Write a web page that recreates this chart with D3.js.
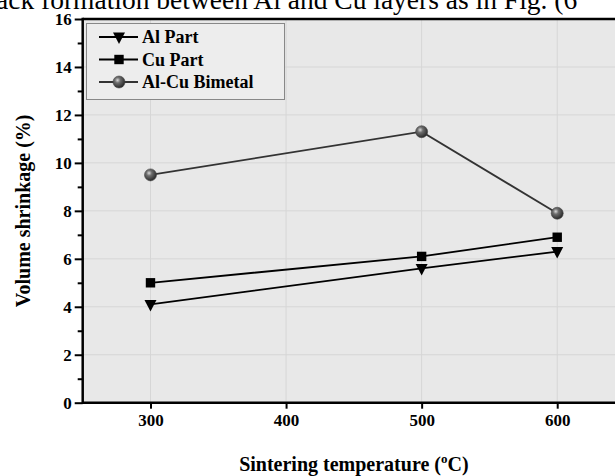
<!DOCTYPE html>
<html><head><meta charset="utf-8">
<script src="https://cdn.jsdelivr.net/npm/d3@7"></script>
<style>html,body{margin:0;padding:0;background:#fff;overflow:hidden}</style>
</head><body>
<script>
const temps = [300, 500, 600];
const alPart = [4.1, 5.6, 6.3];
const cuPart = [5.0, 6.1, 6.9];
const bimetal = [9.5, 11.3, 7.9];
const seriesNames = ["Al Part", "Cu Part", "Al-Cu Bimetal"];
const xTicks = [300, 400, 500, 600];
const yTicks = [0, 2, 4, 6, 8, 10, 12, 14, 16];
const headerText = "ack formation between Al and Cu layers as in Fig. (6";

const W = 615, H = 476;
const m = {left: 82.7, top: 19, right: 625, bottom: 402.7};
const svg = d3.select("body").append("svg").attr("width", W).attr("height", H);
const x = d3.scaleLinear().domain([250, 650]).range([m.left, m.right]);
const y = d3.scaleLinear().domain([0, 16]).range([m.bottom, m.top]);
const serif = "'Liberation Serif','Times New Roman',serif";

// header text from page
svg.append("text").attr("x", -4).attr("y", 9).attr("font-family", serif)
  .attr("font-size", 27.5).attr("fill", "#000").text(headerText);

const defs = svg.append("defs");
const rg = defs.append("radialGradient").attr("id", "sph").attr("cx", "38%").attr("cy", "35%").attr("r", "65%");
rg.append("stop").attr("offset", "0%").attr("stop-color", "#d8d8d8");
rg.append("stop").attr("offset", "35%").attr("stop-color", "#6e6e6e");
rg.append("stop").attr("offset", "100%").attr("stop-color", "#2a2a2a");

// plot background
svg.append("rect").attr("x", m.left).attr("y", m.top).attr("width", m.right - m.left)
  .attr("height", m.bottom - m.top).attr("fill", "#e8e8e8");

// grid
const g = svg.append("g");
g.selectAll(".gx").data(xTicks).enter().append("line")
  .attr("x1", d => x(d)).attr("x2", d => x(d)).attr("y1", m.top).attr("y2", m.bottom)
  .attr("stroke", "#d6d6d6").attr("stroke-width", 1);
g.selectAll(".gy").data(yTicks.filter(v => v > 0 && v < 16)).enter().append("line")
  .attr("x1", m.left).attr("x2", m.right).attr("y1", d => y(d)).attr("y2", d => y(d))
  .attr("stroke", "#d6d6d6").attr("stroke-width", 1);

// axes
const xAxis = d3.axisBottom(x).tickValues(xTicks).tickSize(6).tickPadding(5).tickFormat(d3.format("d"));
const gx = svg.append("g").attr("transform", `translate(0,${m.bottom})`).call(xAxis);
const yAxis = d3.axisLeft(y).tickValues(yTicks).tickSize(8).tickPadding(3);
const gy = svg.append("g").attr("transform", `translate(${m.left},0)`).call(yAxis);
const yMinor = d3.axisLeft(y).tickValues(d3.range(1, 16, 2)).tickSize(5).tickFormat("");
const gym = svg.append("g").attr("transform", `translate(${m.left},0)`).call(yMinor);
[gx, gy, gym].forEach(a => {
  a.select(".domain").remove();
  a.selectAll("line").attr("stroke", "#000").attr("stroke-width", 2);
  a.selectAll("text").attr("font-family", serif).attr("font-weight", "bold")
    .attr("font-size", 17).attr("fill", "#000");
});
// frame
svg.append("line").attr("x1", m.left).attr("x2", m.right).attr("y1", m.bottom).attr("y2", m.bottom)
  .attr("stroke", "#000").attr("stroke-width", 2.5);
svg.append("line").attr("x1", m.left).attr("x2", m.right).attr("y1", m.top).attr("y2", m.top)
  .attr("stroke", "#000").attr("stroke-width", 2.5);
svg.append("line").attr("x1", m.left).attr("x2", m.left).attr("y1", m.top - 1.2).attr("y2", m.bottom + 1.2)
  .attr("stroke", "#000").attr("stroke-width", 2.5);

// axis titles
const xt = svg.append("text").attr("x", x(450)).attr("y", 471).attr("text-anchor", "middle")
  .attr("font-family", serif).attr("font-weight", "bold").attr("font-size", 20);
xt.append("tspan").text("Sintering temperature (");
xt.append("tspan").attr("font-size", 13).attr("dy", -8).text("o");
xt.append("tspan").attr("dy", 8).text("C)");
svg.append("text").attr("transform", `translate(30,${(m.top + m.bottom) / 2}) rotate(-90)`)
  .attr("text-anchor", "middle").attr("font-family", serif).attr("font-weight", "bold")
  .attr("font-size", 20).text("Volume shrinkage (%)");

// series
const series = [
  {name: seriesNames[0], vals: alPart, stroke: "#000", sym: "tri"},
  {name: seriesNames[1], vals: cuPart, stroke: "#000", sym: "sq"},
  {name: seriesNames[2], vals: bimetal, stroke: "#333", sym: "sph"}
];
const line = d3.line().x(d => x(d[0])).y(d => y(d[1]));
function drawMarker(sel, sym) {
  if (sym === "tri") {
    sel.append("path").attr("d", "M-6,-4.5L6,-4.5L0,7Z").attr("fill", "#000");
  } else if (sym === "sq") {
    sel.append("rect").attr("x", -4.7).attr("y", -4.7).attr("width", 9.4).attr("height", 9.4).attr("fill", "#000");
  } else {
    sel.append("circle").attr("r", 6).attr("fill", "url(#sph)").attr("stroke", "#444").attr("stroke-width", 0.6);
  }
}
series.forEach(s => {
  const pts = temps.map((t, i) => [t, s.vals[i]]);
  svg.append("path").attr("d", line(pts)).attr("fill", "none").attr("stroke", s.stroke).attr("stroke-width", 1.8);
  pts.forEach(p => {
    const mk = svg.append("g").attr("transform", `translate(${x(p[0])},${y(p[1])})`);
    drawMarker(mk, s.sym);
  });
});

// legend
const lg = svg.append("g");
lg.append("rect").attr("x", 86.5).attr("y", 23.5).attr("width", 198).attr("height", 76)
  .attr("fill", "#ededed").attr("stroke", "#888").attr("stroke-width", 1);
series.forEach((s, i) => {
  const ly = 37 + i * 22.5;
  lg.append("line").attr("x1", 99).attr("x2", 138).attr("y1", ly).attr("y2", ly)
    .attr("stroke", s.stroke).attr("stroke-width", 1.8);
  drawMarker(lg.append("g").attr("transform", `translate(119,${ly})`), s.sym);
  lg.append("text").attr("x", 142).attr("y", ly + 6).attr("font-family", serif)
    .attr("font-weight", "bold").attr("font-size", 18).text(s.name);
});
</script>
</body></html>
